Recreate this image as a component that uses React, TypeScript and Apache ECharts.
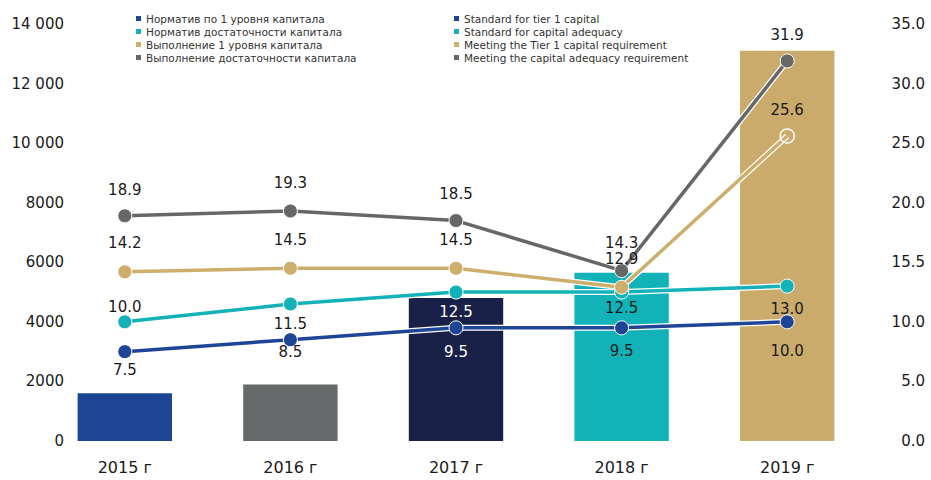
import React, { useEffect, useRef } from "react";
import * as echarts from "echarts";

const categories = ["2015 г", "2016 г", "2017 г", "2018 г", "2019 г"];
const barValues = [1600, 1900, 4800, 5650, 13100];
const barColors = ["#1c4694", "#676a6a", "#1a2149", "#12b3b8", "#cbab6b"];

const tier1Standard = [7.5, 8.5, 9.5, 9.5, 10.0];
const adequacyStandard = [10.0, 11.5, 12.5, 12.5, 13.0];
const tier1Actual = [14.2, 14.5, 14.5, 12.9, 25.6];
const adequacyActual = [18.9, 19.3, 18.5, 14.3, 31.9];

const namesRu = [
  "Норматив по 1 уровня капитала",
  "Норматив достаточности капитала",
  "Выполнение 1 уровня капитала",
  "Выполнение достаточности капитала",
];
const namesEn = [
  "Standard for tier 1 capital",
  "Standard for capital adequacy",
  "Meeting the Tier 1 capital requirement",
  "Meeting the capital adequacy requirement",
];
const lineColors = ["#1f4597", "#12b2b8", "#cdae6c", "#666868"];

const leftTickLabels = ["0", "2000", "4000", "6000", "8000", "10 000", "12 000", "14 000"];
const rightTickLabels = ["0.0", "5.0", "10.0", "15.5", "20.0", "25.0", "30.0", "35.0"];

// label vertical offsets (px) relative to each point
const labelOffsets = [
  [18, 12, 24, 23, 29],
  [-15, 20, 20, 16, 23],
  [-29, -28, -28, -28, -26],
  [-26, -28, -27, -28, -26],
];
const whiteLabel = [
  [false, false, true, false, false],
  [false, false, true, false, false],
  [false, false, false, false, false],
  [false, false, false, false, false],
];

const FONT = "DejaVu Sans";

export default function App() {
  const ref = useRef<HTMLDivElement>(null);
  useEffect(() => {
    if (!ref.current) return;
    const chart = echarts.init(ref.current, null, { renderer: "svg" });
    const lineData = [tier1Standard, adequacyStandard, tier1Actual, adequacyActual];

    const underlays = lineData.map((d) => ({
      type: "line",
      yAxisIndex: 1,
      data: d,
      symbol: "none",
      silent: true,
      lineStyle: { color: "#ffffff", width: 6 },
      z: 3,
    }));

    const lines = lineData.map((d, si) => ({
      name: namesRu[si],
      type: "line",
      yAxisIndex: 1,
      symbol: "circle",
      symbolSize: 14,
      z: 4,
      color: lineColors[si],
      lineStyle: { color: lineColors[si], width: 3.5 },
      itemStyle: { color: lineColors[si], borderColor: "#ffffff", borderWidth: 1 },
      data: d.map((v, i) => {
        const item: any = {
          value: v,
          label: {
            show: true,
            position: "inside",
            offset: [0, labelOffsets[si][i]],
            color: whiteLabel[si][i] ? "#ffffff" : "#1a1a1a",
            fontSize: 15,
            fontFamily: FONT,
            formatter: (p: any) => Number(p.value).toFixed(1),
          },
        };
        if (si === 2 && i === 4) {
          item.itemStyle = { color: "rgba(0,0,0,0)", borderColor: "#ffffff", borderWidth: 1.5 };
        }
        return item;
      }),
    }));

    const dummies = namesEn.map((n, i) => ({
      name: n,
      type: "line",
      yAxisIndex: 1,
      data: [],
      color: lineColors[i],
      itemStyle: { color: lineColors[i] },
    }));

    const legendCommon = {
      orient: "vertical",
      top: 8,
      icon: "rect",
      itemWidth: 5,
      itemHeight: 5,
      itemGap: 2,
      itemStyle: { borderWidth: 0 },
      lineStyle: { width: 0 },
      textStyle: { fontSize: 10.5, fontFamily: FONT, color: "#333", lineHeight: 11 },
    };

    chart.setOption({
      animation: false,
      textStyle: { fontFamily: FONT },
      legend: [
        { ...legendCommon, left: 131, data: namesRu },
        { ...legendCommon, left: 449, data: namesEn },
      ],
      grid: { left: 42, right: 61, top: 24, bottom: 39, containLabel: false },
      xAxis: {
        type: "category",
        data: categories,
        axisLine: { show: false },
        axisTick: { show: false },
        axisLabel: { fontSize: 16, color: "#1a1a1a", margin: 18, fontFamily: FONT },
      },
      yAxis: [
        {
          type: "value",
          min: 0,
          max: 14000,
          interval: 2000,
          offset: -26,
          splitLine: { show: false },
          axisLine: { show: false },
          axisTick: { show: false },
          axisLabel: {
            fontSize: 15,
            color: "#1a1a1a",
            margin: 4,
            align: "right",
            fontFamily: FONT,
            formatter: (v: number) => leftTickLabels[Math.round(v / 2000)],
          },
        },
        {
          type: "value",
          min: 0,
          max: 35,
          interval: 5,
          position: "right",
          splitLine: { show: false },
          axisLine: { show: false },
          axisTick: { show: false },
          axisLabel: {
            fontSize: 15,
            color: "#1a1a1a",
            margin: 55,
            align: "right",
            fontFamily: FONT,
            formatter: (v: number) => rightTickLabels[Math.round(v / 5)],
          },
        },
      ],
      series: [
        {
          type: "bar",
          yAxisIndex: 0,
          barWidth: "57%",
          z: 2,
          data: barValues.map((v, i) => ({ value: v, itemStyle: { color: barColors[i] } })),
        },
        ...underlays,
        ...lines,
        ...dummies,
      ],
    });
    return () => chart.dispose();
  }, []);
  return (
    <div
      ref={ref}
      style={{ position: "fixed", left: 0, top: 0, width: 931, height: 480, background: "#fff" }}
    />
  );
}
